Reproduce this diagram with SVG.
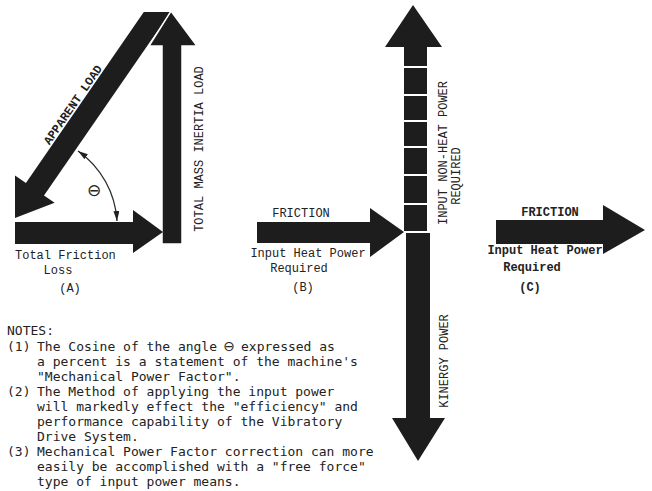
<svg xmlns="http://www.w3.org/2000/svg" width="652" height="491" viewBox="0 0 652 491">
<defs>
<style>
.arrow{fill:#1d1d1d}
.sep{fill:#1d1d1d;stroke:#fff;stroke-width:1.5}
.lbl{font-family:"Liberation Mono","Courier New",monospace;font-size:12px;fill:#222}
.bold{font-weight:bold}
.notes{font-family:"DejaVu Sans Mono","Liberation Mono",monospace;font-size:13px;fill:#222}
.gap{stroke:#fff;stroke-width:2}
.thin{fill:none;stroke:#2a2a2a;stroke-width:1.3}
.sym{font-family:"DejaVu Sans",sans-serif;fill:#222}
</style>
<marker id="ah" viewBox="0 0 10 6" refX="10" refY="3" markerWidth="10" markerHeight="6" markerUnits="userSpaceOnUse" orient="auto-start-reverse"><path d="M0,0 L10,3 L0,6 z" fill="#222"/></marker>
</defs>
<rect width="652" height="491" fill="#fff"/>

<g id="diagramA">
  <g id="apparent-load">
    <polygon class="arrow" points="143.8,12 170.6,12 44,195.5 54.6,202.8 15,218 15,175.6 25.9,183"/>
    <text class="lbl bold" x="76" y="107" text-anchor="middle" transform="rotate(-55.4 76 107)">APPARENT LOAD</text>
  </g>
  <g id="total-mass-inertia-load">
    <polygon class="sep" points="171,11 197,46 182,46 182,244 162,244 162,46 149,46"/>
    <text class="lbl" x="203" y="149" text-anchor="middle" transform="rotate(-90 203 149)">TOTAL MASS INERTIA LOAD</text>
  </g>
  <g id="total-friction-loss">
    <polygon class="arrow" points="15,222 133,222 133,210 163,232 133,253 133,244 15,244"/>
    <text class="lbl" x="15" y="259">Total Friction</text>
    <text class="lbl" x="58" y="274" text-anchor="middle">Loss</text>
    <text class="lbl" x="70" y="292" text-anchor="middle">(A)</text>
  </g>
  <g id="theta-angle">
    <path class="thin" d="M78 151 A92 92 0 0 1 117 221" marker-start="url(#ah)" marker-end="url(#ah)"/>
    <text class="sym" x="94" y="196" font-size="17" text-anchor="middle">⊖</text>
  </g>
</g>

<g id="diagramB">
  <g id="friction-b">
    <polygon class="arrow" points="257,222 370,222 370,208 404,232 370,257 370,243 257,243"/>
    <text class="lbl" x="301" y="217" text-anchor="middle">FRICTION</text>
    <text class="lbl" x="308" y="257" text-anchor="middle">Input Heat Power</text>
    <text class="lbl" x="299" y="272" text-anchor="middle">Required</text>
    <text class="lbl" x="303" y="291" text-anchor="middle">(B)</text>
  </g>
  <g id="power-axis">
    <polygon class="arrow" points="413,5 442,47 427,47 427,232 430,232 430,418 445,418 418,461 392,418 406,418 406,232 404,232 404,47 385,47"/>
    <g class="gap">
      <line x1="400" y1="67" x2="432" y2="67"/>
      <line x1="400" y1="95" x2="432" y2="95"/>
      <line x1="400" y1="121" x2="432" y2="121"/>
      <line x1="400" y1="147" x2="432" y2="147"/>
      <line x1="400" y1="175" x2="432" y2="175"/>
      <line x1="400" y1="204" x2="432" y2="204"/>
      <line x1="404" y1="232" x2="432" y2="232"/>
    </g>
    <text class="lbl" x="447" y="153" text-anchor="middle" transform="rotate(-90 447 153)">INPUT NON-HEAT POWER</text>
    <text class="lbl" x="460" y="176" text-anchor="middle" transform="rotate(-90 460 176)">REQUIRED</text>
    <text class="lbl" x="448" y="361" text-anchor="middle" transform="rotate(-90 448 361)">KINERGY POWER</text>
  </g>
</g>

<g id="diagramC">
  <polygon class="arrow" points="496,220 603,220 603,205 645,230 603,254 603,244 496,244"/>
  <text class="lbl bold" x="550" y="216" text-anchor="middle">FRICTION</text>
  <text class="lbl bold" x="545" y="254" text-anchor="middle">Input Heat Power</text>
  <text class="lbl bold" x="532" y="271" text-anchor="middle">Required</text>
  <text class="lbl bold" x="530" y="291" text-anchor="middle">(C)</text>
</g>

<g id="notes" class="notes">
  <text x="7" y="335">NOTES:</text>
  <text x="7" y="351">(1)</text>
  <text x="37" y="351">The Cosine of the angle</text>
  <text class="sym" x="229" y="351" font-size="14" text-anchor="middle">⊖</text>
  <text x="241" y="351">expressed as</text>
  <text x="37" y="366">a percent is a statement of the machine's</text>
  <text x="37" y="381">"Mechanical Power Factor".</text>
  <text x="7" y="396">(2)</text>
  <text x="37" y="396">The Method of applying the input power</text>
  <text x="37" y="411">will markedly effect the "efficiency" and</text>
  <text x="37" y="426">performance capability of the Vibratory</text>
  <text x="37" y="441">Drive System.</text>
  <text x="7" y="456">(3)</text>
  <text x="37" y="456">Mechanical Power Factor correction can more</text>
  <text x="37" y="471">easily be accomplished with a "free force"</text>
  <text x="37" y="486">type of input power means.</text>
</g>
</svg>
